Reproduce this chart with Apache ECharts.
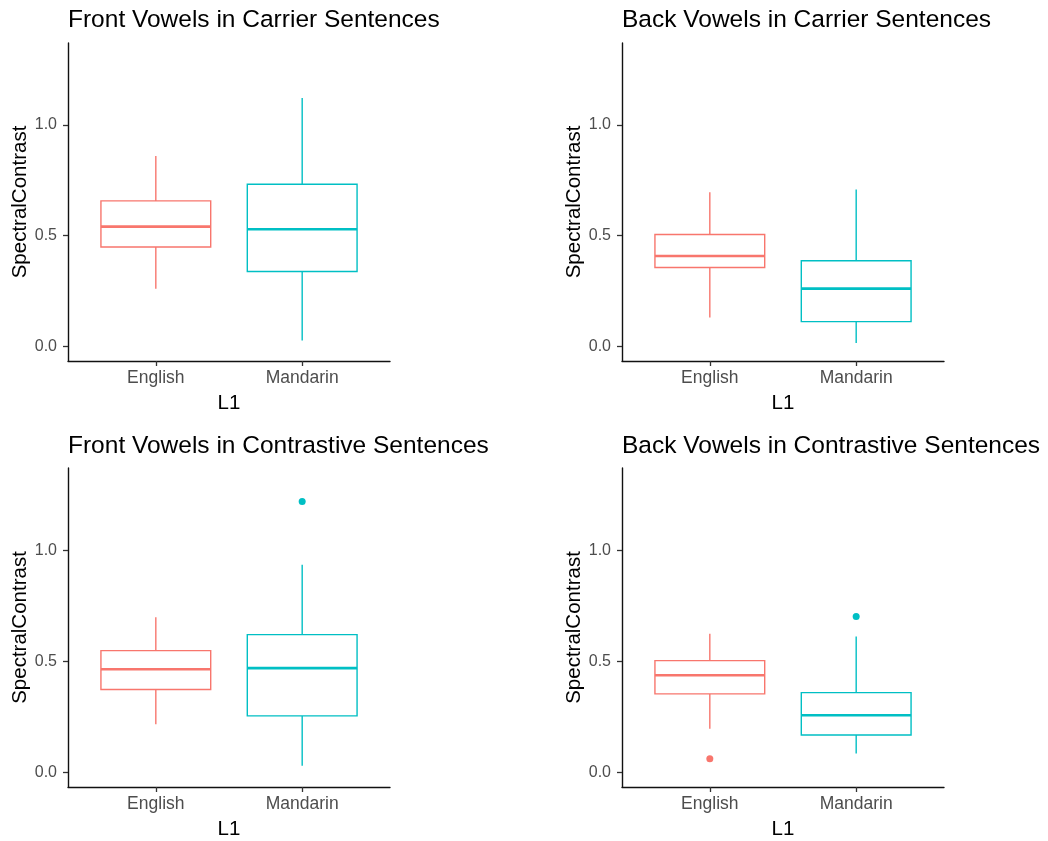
<!DOCTYPE html>
<html>
<head>
<meta charset="utf-8">
<script src="https://cdn.jsdelivr.net/npm/echarts@6/dist/echarts.min.js"></script>
<style>
  html, body { margin: 0; padding: 0; background: #fff; }
  #chart { width: 1048px; height: 841px; }
</style>
</head>
<body>
<div id="chart"></div>
<script>
// ---- data ----
const categories = ['English', 'Mandarin'];
const groupColors = ['#F8766D', '#00BFC4'];
const panelTitles = [
  'Front Vowels in Carrier Sentences',
  'Back Vowels in Carrier Sentences',
  'Front Vowels in Contrastive Sentences',
  'Back Vowels in Contrastive Sentences'
];
const yTickValues = [0, 0.5, 1.0];
// box stats per group: [lowerWhisker, Q1, median, Q3, upperWhisker]
const frontCarrierBoxes = [
  [0.260, 0.449, 0.541, 0.657, 0.860],
  [0.027, 0.338, 0.529, 0.732, 1.122]
];
const backCarrierBoxes = [
  [0.130, 0.356, 0.408, 0.505, 0.696],
  [0.015, 0.112, 0.261, 0.387, 0.708]
];
const frontContrastBoxes = [
  [0.217, 0.373, 0.464, 0.548, 0.698],
  [0.030, 0.254, 0.469, 0.620, 0.934]
];
const backContrastBoxes = [
  [0.196, 0.353, 0.437, 0.503, 0.624],
  [0.085, 0.168, 0.257, 0.359, 0.611]
];
// outliers: [groupIndex, value]
const frontCarrierOutliers = [];
const backCarrierOutliers = [];
const frontContrastOutliers = [[1, 1.219]];
const backContrastOutliers = [[0, 0.061], [1, 0.702]];

const panelBoxes = [frontCarrierBoxes, backCarrierBoxes, frontContrastBoxes, backContrastBoxes];
const panelOutliers = [frontCarrierOutliers, backCarrierOutliers, frontContrastOutliers, backContrastOutliers];

// ---- layout ----
const gridRects = [
  { left: 68, top: 43, width: 322, height: 318 },
  { left: 622, top: 43, width: 322, height: 318 },
  { left: 68, top: 468, width: 322, height: 319 },
  { left: 622, top: 468, width: 322, height: 319 }
];
const titleTops = [8, 8, 434, 434];
const FONT = 'Liberation Sans, Arial, sans-serif';

const chart = echarts.init(document.getElementById('chart'), null, { renderer: 'canvas' });

function renderBox(params, api) {
  const x = api.value(0);
  const lo = api.value(1), q1 = api.value(2), med = api.value(3), q3 = api.value(4), hi = api.value(5);
  const color = groupColors[api.value(6)];
  const half = api.size([0.75, 0])[0] / 2;
  const pLo = api.coord([x, lo]);
  const pQ1 = api.coord([x, q1]);
  const pMed = api.coord([x, med]);
  const pQ3 = api.coord([x, q3]);
  const pHi = api.coord([x, hi]);
  const lw = 1.4;
  return {
    type: 'group',
    children: [
      { type: 'line', shape: { x1: pHi[0], y1: pHi[1], x2: pQ3[0], y2: pQ3[1] }, style: { stroke: color, lineWidth: lw } },
      { type: 'line', shape: { x1: pQ1[0], y1: pQ1[1], x2: pLo[0], y2: pLo[1] }, style: { stroke: color, lineWidth: lw } },
      { type: 'rect', shape: { x: pQ3[0] - half, y: pQ3[1], width: half * 2, height: pQ1[1] - pQ3[1] },
        style: { fill: '#ffffff', stroke: color, lineWidth: lw } },
      { type: 'line', shape: { x1: pMed[0] - half, y1: pMed[1], x2: pMed[0] + half, y2: pMed[1] },
        style: { stroke: color, lineWidth: 2.6 } }
    ]
  };
}

const grids = [], xAxes = [], yAxes = [], series = [], titles = [];
for (let i = 0; i < 4; i++) {
  grids.push(Object.assign({ containLabel: false, outerBoundsMode: 'none' }, gridRects[i]));
  titles.push({
    text: panelTitles[i],
    left: gridRects[i].left,
    top: titleTops[i],
    padding: 0,
    textStyle: { fontFamily: FONT, fontSize: 24.5, fontWeight: 'normal', color: '#000' }
  });
  xAxes.push({
    type: 'value', gridIndex: i, min: 0.4, max: 2.6,
    name: 'L1', nameLocation: 'middle', nameGap: 32,
    nameTextStyle: { fontFamily: FONT, fontSize: 20.5, color: '#000' },
    splitLine: { show: false },
    axisLine: { show: true, onZero: false, lineStyle: { color: '#111', width: 1.4 } },
    axisTick: { show: true, length: 5, customValues: [1, 2], lineStyle: { color: '#333', width: 1.3 } },
    axisLabel: {
      show: true, customValues: [1, 2], margin: 8.5,
      formatter: v => categories[Math.round(v) - 1],
      fontFamily: FONT, fontSize: 17.5, color: '#4D4D4D'
    }
  });
  yAxes.push({
    type: 'value', gridIndex: i, min: -0.066, max: 1.37,
    name: 'SpectralContrast', nameLocation: 'middle', nameGap: 36, nameRotate: 90,
    nameTextStyle: { fontFamily: FONT, fontSize: 20.5, color: '#000' },
    splitLine: { show: false },
    axisLine: { show: true, onZero: false, lineStyle: { color: '#111', width: 1.4 } },
    axisTick: { show: true, length: 5, customValues: yTickValues, lineStyle: { color: '#333', width: 1.3 } },
    axisLabel: {
      show: true, customValues: yTickValues, margin: 11,
      formatter: v => Number(v).toFixed(1),
      fontFamily: FONT, fontSize: 16, color: '#4D4D4D'
    }
  });
  const boxData = panelBoxes[i].map((b, g) => [g + 1, b[0], b[1], b[2], b[3], b[4], g]);
  series.push({
    type: 'custom', xAxisIndex: i, yAxisIndex: i,
    renderItem: renderBox,
    encode: { x: 0, y: [1, 2, 3, 4, 5] },
    data: boxData, silent: true, animation: false
  });
  series.push({
    type: 'scatter', xAxisIndex: i, yAxisIndex: i,
    symbol: 'circle', symbolSize: 7,
    data: panelOutliers[i].map(o => ({ value: [o[0] + 1, o[1]], itemStyle: { color: groupColors[o[0]], opacity: 1 } })),
    silent: true, animation: false, z: 5
  });
}

chart.setOption({
  backgroundColor: '#ffffff',
  animation: false,
  title: titles,
  grid: grids,
  xAxis: xAxes,
  yAxis: yAxes,
  series: series
});
</script>
</body>
</html>
